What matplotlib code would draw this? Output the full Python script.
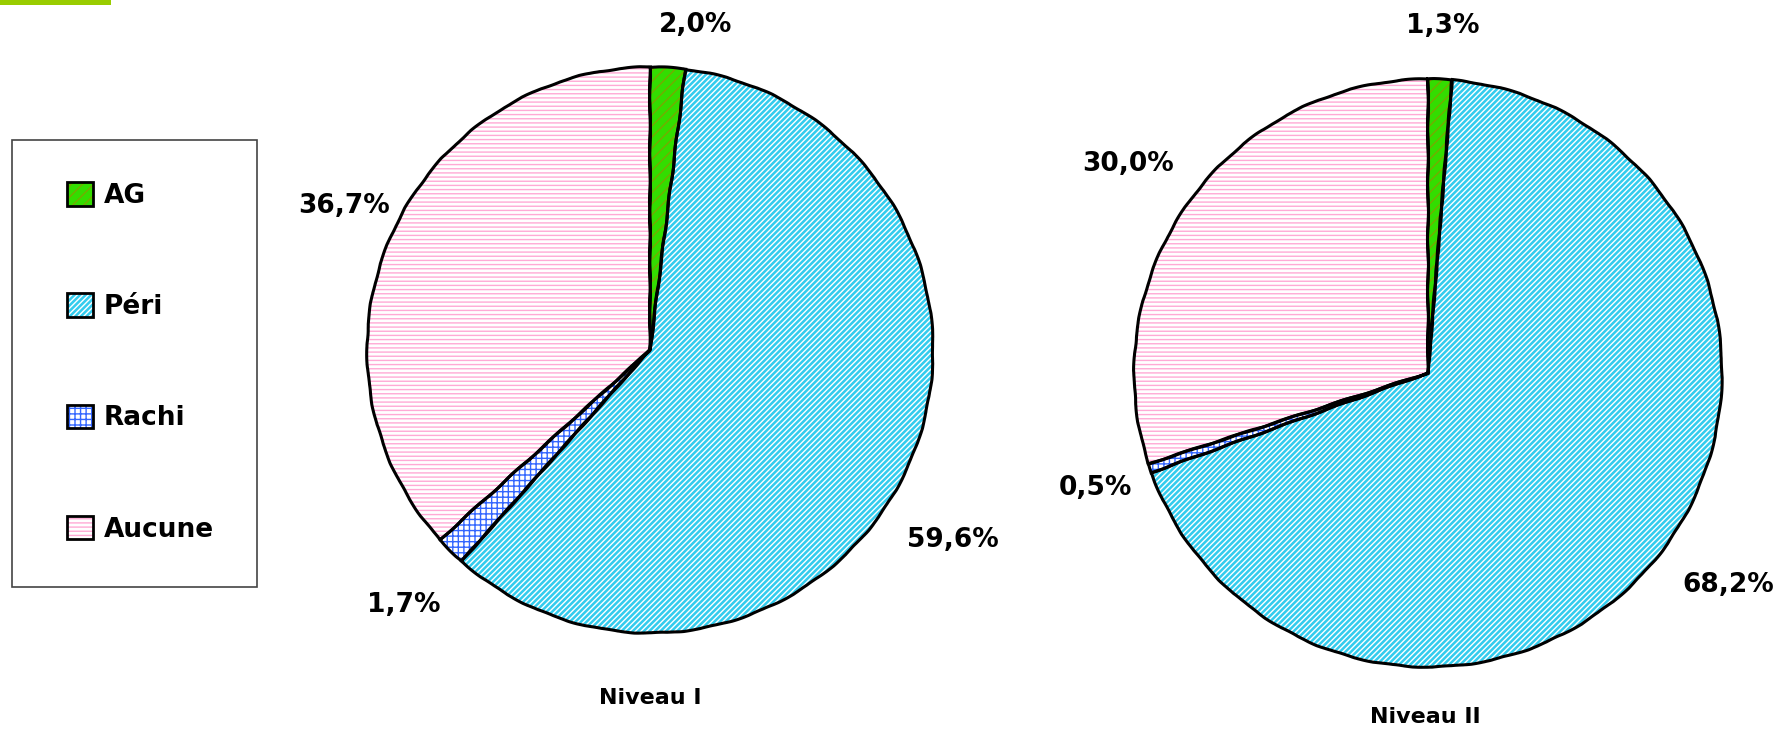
import matplotlib
matplotlib.use("Agg")
import matplotlib.pyplot as plt
from matplotlib.patches import Rectangle, Patch
from matplotlib.legend_handler import HandlerTuple

categories = ["AG", "Péri", "Rachi", "Aucune"]
niveau1 = [2.0, 59.6, 1.7, 36.7]
niveau2 = [1.3, 68.2, 0.5, 30.0]
titles = ["Niveau I", "Niveau II"]
pct_labels1 = ["2,0%", "59,6%", "1,7%", "36,7%"]
pct_labels2 = ["1,3%", "68,2%", "0,5%", "30,0%"]

fill_colors = ["#33dd00", "#33ccee", "#ffffff", "#ffffff"]
hatch_colors = ["#77aa00", "#ffffff", "#3366ff", "#ffaad5"]
hatches = ["///", "//////", "+++", "----"]

W, H = 1787, 733
plt.rcParams["font.family"] = ["DejaVu Sans"]
plt.rcParams["font.weight"] = "bold"
plt.rcParams["hatch.linewidth"] = 1.0

fig = plt.figure(figsize=(W / 100, H / 100), dpi=100)
fig.patches.append(Rectangle((0, 1 - 5 / H), 111 / W, 5 / H, transform=fig.transFigure,
                             facecolor="#99cc00", edgecolor="none"))


def draw_pie(cx, cy, r, values, labels, label_pos, title, title_pos):
    ax = fig.add_axes([(cx - r) / W, (H - cy - r) / H, 2 * r / W, 2 * r / H])
    kw = dict(startangle=90, counterclock=False, radius=1, center=(0, 0), frame=False)
    ax.pie(values, colors=fill_colors, wedgeprops=dict(edgecolor="none", linewidth=0), **kw)
    hw, _ = ax.pie(values, colors=["none"] * 4, hatch=hatches,
                   wedgeprops=dict(linewidth=0), **kw)
    for w, hc in zip(hw, hatch_colors):
        w.set_edgecolor(hc)
    ow, _ = ax.pie(values, colors=["none"] * 4,
                   wedgeprops=dict(edgecolor="black", linewidth=2.2), **kw)
    for w in ow:
        w.set_sketch_params(0.5, 60, 2)
    ax.set_xlim(-1, 1)
    ax.set_ylim(-1, 1)
    ax.set_aspect("equal")
    ax.axis("off")
    for t, (x, y) in zip(labels, label_pos):
        ax.text(x, y, t, ha="center", va="center", fontsize=19, fontweight="bold")
    ax.text(title_pos[0], title_pos[1], title, ha="center", va="center",
            fontsize=16, fontweight="bold")
    return ax


draw_pie(650, 350, 283, niveau1, pct_labels1,
         [(0.16, 1.15), (1.07, -0.67), (-0.87, -0.90), (-1.08, 0.51)],
         titles[0], (0, -1.23))
draw_pie(1428, 373, 294, niveau2, pct_labels2,
         [(0.05, 1.18), (1.02, -0.72), (-1.13, -0.39), (-1.02, 0.71)],
         titles[1], (-0.01, -1.17))

# legend frame
fig.patches.append(Rectangle((12 / W, 1 - 587 / H), 245 / W, 447 / H,
                             transform=fig.transFigure, facecolor="white",
                             edgecolor="#444444", linewidth=1.2, zorder=0))

handles = []
for fc, hc, h in zip(fill_colors, hatch_colors, hatches):
    handles.append((Patch(facecolor=fc, edgecolor="none"),
                    Patch(facecolor="none", edgecolor=hc, hatch=h, linewidth=0),
                    Patch(facecolor="none", edgecolor="black", linewidth=2)))

leg = fig.legend(handles, categories, loc="upper left",
                 bbox_to_anchor=(67 / W, 1 - 182 / H),
                 handler_map={tuple: HandlerTuple(ndivide=1, pad=0)},
                 prop=dict(size=19, weight="bold"),
                 handlelength=1.0, handleheight=1.0, handletextpad=0.4,
                 labelspacing=3.2, borderpad=0, borderaxespad=0,
                 frameon=False)

fig.savefig("out.png", dpi=100, facecolor="white")
